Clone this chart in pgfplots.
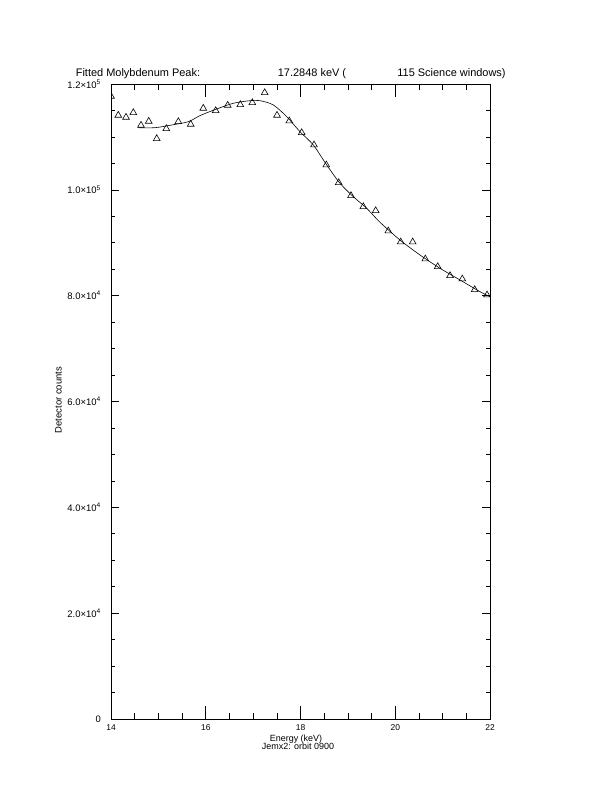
\documentclass[border=0pt]{standalone}
\usepackage{fontspec}
\setmainfont{Liberation Sans}
\usepackage{pgfplots}
\pgfplotsset{compat=1.18}
\begin{document}
\begin{tikzpicture}
\useasboundingbox (0,0) rectangle (612bp,792bp);
\pgfplotsset{
  common/.style={
    at={(111bp,73bp)}, anchor=south west, scale only axis,
    width=379bp, height=635bp,
    xmin=14, xmax=22, ymin=0, ymax=120000,
    axis line style={line width=0.7pt},
    tick align=inside,
    tick style={black, line width=0.6pt},
    scaled ticks=false,
  }
}
% y axis ticks
\begin{axis}[common,
  xtick=\empty,
  ytick={0,20000,40000,60000,80000,100000,120000},
  yticklabels={0,{2.0×10\textsuperscript{4}},{4.0×10\textsuperscript{4}},{6.0×10\textsuperscript{4}},{8.0×10\textsuperscript{4}},{1.0×10\textsuperscript{5}},{1.2×10\textsuperscript{5}}},
  minor y tick num=3,
  major tick length=7.6bp, minor tick length=3.8bp,
  yticklabel style={font=\fontsize{9.5}{10}\selectfont, inner sep=0pt, xshift=-10bp},
]
\end{axis}
% x axis ticks and data
\begin{axis}[common,
  ytick=\empty,
  xtick={14,16,18,20,22},
  xticklabels={14,16,18,20,22},
  minor x tick num=3,
  major tick length=12.7bp, minor tick length=6.35bp,
  xticklabel style={font=\fontsize{8.5}{9}\selectfont, inner sep=0pt, yshift=-5bp},
  clip marker paths=true,
]
\addplot[only marks, mark=triangle, mark size=3.9bp, mark options={black, line width=0.6pt, fill=none}] coordinates {
(14.00,117679) (14.154,114088) (14.317,113710) (14.471,114579) (14.633,112197)
(14.796,112953) (14.965,109665) (15.167,111555) (15.421,112878) (15.682,112387)
(15.948,115411) (16.210,114957) (16.463,115978) (16.729,116091) (16.983,116469)
(17.244,118359) (17.504,114088) (17.764,113010) (18.025,110799) (18.285,108475)
(18.545,104695) (18.806,101350) (19.066,98893) (19.326,96815) (19.587,96059)
(19.853,92222) (20.115,90143) (20.368,90143) (20.634,86931) (20.896,85477)
(21.156,83775) (21.415,83151) (21.677,81130) (21.937,80128)
};
\addplot[black, line width=0.6pt, smooth, no marks] coordinates {
(14.576,111745) (14.929,111745) (15.281,112254) (15.632,112878) (15.879,114025)
(16.231,115278) (16.582,116355) (16.934,116847) (17.145,116847) (17.426,116034)
(17.709,113823) (17.989,110988) (18.270,108475) (18.553,104695) (18.834,101236)
(19.115,98704) (19.397,96513) (19.678,93867) (20.100,90521) (20.522,87687)
(20.945,85173) (21.367,82962) (21.789,80751) (22.0,79806)
};
\end{axis}
\node[anchor=base, font=\fontsize{11}{12}\selectfont] at (138bp,715.5bp) {Fitted Molybdenum Peak:};
\node[anchor=base, font=\fontsize{11}{12}\selectfont] at (312bp,715.5bp) {17.2848 keV (};
\node[anchor=base, font=\fontsize{11}{12}\selectfont] at (451.5bp,715.5bp) {115 Science windows)};
\node[anchor=base, font=\fontsize{9}{10}\selectfont] at (296bp,50bp) {Energy (keV)};
\node[anchor=base, font=\fontsize{9}{10}\selectfont] at (298bp,42bp) {Jemx2: orbit 0900};
\node[rotate=90, font=\fontsize{9.5}{10}\selectfont] at (58.5bp,392bp) {Detector counts};
\end{tikzpicture}
\end{document}
